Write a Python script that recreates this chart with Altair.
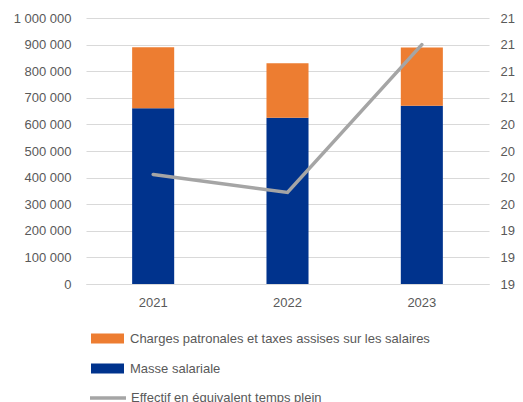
import altair as alt
import pandas as pd

years = ["2021", "2022", "2023"]
masse = [661000, 625000, 670000]
charges = [229500, 205300, 219400]
effectif = [19.78, 19.61, 21.0]

s_charges = "Charges patronales et taxes assises sur les salaires"
s_masse = "Masse salariale"
s_eff = "Effectif en équivalent temps plein"

rows = []
for i, y in enumerate(years):
    rows.append({"year": y, "series": s_masse, "value": masse[i], "ord": 0})
    rows.append({"year": y, "series": s_charges, "value": charges[i], "ord": 1})
bars_df = pd.DataFrame(rows)
line_df = pd.DataFrame({"year": years, "eff": effectif, "series": [s_eff] * 3})

FONT = "Liberation Sans"
TXT = "#595959"
rect_path = "M-3.3,-1 L3.3,-1 L3.3,1 L-3.3,1 Z"
line_path = "M-3.6,0 L3.6,0"

x = alt.X("year:N", title=None, sort=years,
          scale=alt.Scale(paddingInner=0.687, paddingOuter=0.3435),
          axis=alt.Axis(labelAngle=0, ticks=False, domain=True, domainColor="#D9D9D9",
                        labelPadding=12, labelFontSize=13, labelFont=FONT, labelColor=TXT))

bars = alt.Chart(bars_df).mark_bar().encode(
    x=x,
    y=alt.Y("value:Q", title=None, stack="zero",
            scale=alt.Scale(domain=[0, 1000000]),
            axis=alt.Axis(values=list(range(0, 1000001, 100000)),
                          labelExpr="replace(format(datum.value, ','), regexp(',', 'g'), ' ')",
                          ticks=False, domain=False, grid=True, gridColor="#D9D9D9",
                          labelPadding=15, labelFontSize=13, labelFont=FONT, labelColor=TXT)),
    color=alt.Color("series:N",
                    scale=alt.Scale(domain=[s_charges, s_masse], range=["#ED7D31", "#00338D"]),
                    legend=alt.Legend(title=None, orient="none", legendX=15, legendY=314,
                                      direction="vertical", symbolType=rect_path, symbolSize=100,
                                      symbolStrokeWidth=0, labelOffset=16, rowPadding=16,
                                      labelFontSize=13, labelFont=FONT, labelColor=TXT,
                                      labelLimit=500)),
    order=alt.Order("ord:Q"),
)

line = alt.Chart(line_df).mark_line(color="#A5A5A5", strokeWidth=3.5, strokeCap="round").encode(
    x=x,
    y=alt.Y("eff:Q", title=None,
            scale=alt.Scale(domain=[18.75, 21.25], zero=False, nice=False),
            axis=alt.Axis(orient="right", values=[18.75 + 0.25 * k for k in range(11)],
                          format=".0f", ticks=False, domain=False, grid=False,
                          labelPadding=11, labelFontSize=13, labelFont=FONT, labelColor=TXT)),
    stroke=alt.Stroke("series:N",
                      scale=alt.Scale(domain=[s_eff], range=["#A5A5A5"]),
                      legend=alt.Legend(title=None, orient="none", legendX=15, legendY=373,
                                        symbolType=line_path, symbolSize=100,
                                        symbolStrokeWidth=3.5, labelOffset=16,
                                        labelFontSize=13, labelFont=FONT, labelColor=TXT,
                                        labelLimit=500)),
)

chart = alt.layer(bars, line).resolve_scale(y="independent", color="independent").properties(
    width=403, height=266,
    autosize=alt.AutoSizeParams(type="none"),
    padding={"left": 78, "top": 10, "right": 26, "bottom": 125},
).configure_view(stroke=None)

chart.save("out.html", embed_options={"renderer": "svg", "actions": False})
